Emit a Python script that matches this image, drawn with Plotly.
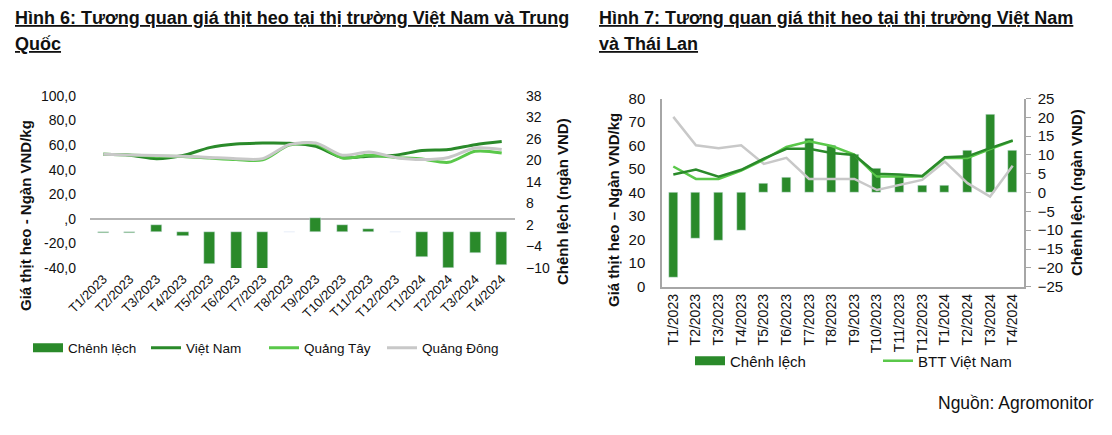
import plotly.graph_objects as go

W, H = 1112, 435
OFF = 8  # page body margin compensation

categories = ["T1/2023", "T2/2023", "T3/2023", "T4/2023", "T5/2023", "T6/2023", "T7/2023",
              "T8/2023", "T9/2023", "T10/2023", "T11/2023", "T12/2023",
              "T1/2024", "T2/2024", "T3/2024", "T4/2024"]

# Chart 6: Vietnam vs China
chenh_lech_6 = [-0.2, -0.2, 2.0, -1.2, -9.0, -10.3, -10.3, 0.0, 4.0, 2.0, 0.8, 0.0, -6.9, -10.0, -5.7, -9.3]
viet_nam_6 = [52.5, 51.8, 49.0, 51.5, 58.0, 61.0, 61.7, 61.5, 59.0, 50.0, 51.0, 51.8, 55.6, 56.4, 60.4, 63.0]
quang_tay_6 = [52.5, 52.0, 51.0, 50.8, 49.5, 48.3, 48.0, 60.0, 61.0, 49.6, 51.8, 50.0, 48.7, 46.0, 55.0, 53.6]
quang_dong_6 = [52.5, 52.0, 51.5, 51.0, 50.0, 49.0, 49.0, 60.4, 61.7, 51.8, 54.4, 50.0, 48.3, 50.0, 57.7, 56.4]
left6_tickvals = [-40, -20, 0, 20, 40, 60, 80, 100]
left6_ticktext = ["-40,0", "-20,0", ",0", "20,0", "40,0", "60,0", "80,0", "100,0"]
right6_tickvals = [-10, -4, 2, 8, 14, 20, 26, 32, 38]

# Chart 7: Vietnam vs Thailand
chenh_lech_7 = [-22.5, -12.2, -12.6, -10.1, 2.3, 3.9, 14.3, 12.5, 10.1, 6.5, 4.4, 2.0, 2.0, 11.1, 20.7, 11.1]
viet_nam_7 = [47.7, 49.8, 46.8, 49.7, 54.4, 58.6, 58.6, 56.8, 56.0, 48.0, 47.7, 47.1, 55.0, 55.4, 58.9, 62.2]
btt_viet_nam_7 = [51.1, 45.8, 45.8, 49.4, 54.0, 59.4, 61.8, 59.8, 56.2, 46.8, 46.8, 46.8, 54.7, 54.7, 58.5, 62.0]
thai_lan_7 = [72.2, 60.1, 58.9, 60.1, 52.2, 54.8, 45.8, 45.8, 45.8, 41.1, 43.3, 45.4, 53.2, 44.0, 38.3, 51.4]

BAR = "#2a8a2a"
DARK = "#2a8a2a"
LIGHT = "#5ac84a"
GRAY = "#c8c8c8"
AXIS = "#a6a6a6"
FONT = "Liberation Sans, Arial, sans-serif"
TXT = "#111"


def px(x):
    return (x - OFF) / W


def py(y):
    return (H - (y - OFF)) / H


fig = go.Figure()

# ---- Chart 6 ----
fig.add_trace(go.Bar(x=categories, y=chenh_lech_6, marker_color=BAR, width=0.42,
                     xaxis="x", yaxis="y", showlegend=False, name="Chênh lệch"))
fig.add_trace(go.Scatter(x=[None], y=[None], mode="lines", line=dict(color=BAR, width=9),
                         name="Chênh lệch", xaxis="x", yaxis="y2", legend="legend"))
fig.add_trace(go.Scatter(x=categories, y=viet_nam_6, mode="lines", name="Việt Nam",
                         line=dict(color=DARK, width=3, shape="spline", smoothing=0.8),
                         xaxis="x", yaxis="y2", legend="legend"))
fig.add_trace(go.Scatter(x=categories, y=quang_tay_6, mode="lines", name="Quảng Tây",
                         line=dict(color=LIGHT, width=3, shape="spline", smoothing=0.8),
                         xaxis="x", yaxis="y2", legend="legend"))
fig.add_trace(go.Scatter(x=categories, y=quang_dong_6, mode="lines", name="Quảng Đông",
                         line=dict(color=GRAY, width=3, shape="spline", smoothing=0.8),
                         xaxis="x", yaxis="y2", legend="legend"))

# ---- Chart 7 ----
fig.add_trace(go.Bar(x=categories, y=chenh_lech_7, marker_color=BAR, width=0.4,
                     xaxis="x2", yaxis="y3", showlegend=False, name="Chênh lệch"))
fig.add_trace(go.Scatter(x=[None], y=[None], mode="lines", line=dict(color=BAR, width=9),
                         name="Chênh lệch", xaxis="x2", yaxis="y4", legend="legend2"))
fig.add_trace(go.Scatter(x=categories, y=thai_lan_7, mode="lines", name="Thái Lan",
                         line=dict(color=GRAY, width=2.5), xaxis="x2", yaxis="y4",
                         showlegend=False))
fig.add_trace(go.Scatter(x=categories, y=btt_viet_nam_7, mode="lines", name="BTT Việt Nam",
                         line=dict(color=LIGHT, width=2.5), xaxis="x2", yaxis="y4",
                         legend="legend2"))
fig.add_trace(go.Scatter(x=categories, y=viet_nam_7, mode="lines", name="Việt Nam",
                         line=dict(color=DARK, width=2.5), xaxis="x2", yaxis="y4",
                         showlegend=False))

tickfont6 = dict(family=FONT, size=14, color=TXT)
tickfont7 = dict(family=FONT, size=15, color=TXT)

fig.update_layout(
    width=W, height=H,
    margin=dict(l=0, r=0, t=0, b=0, autoexpand=False),
    paper_bgcolor="white", plot_bgcolor="rgba(0,0,0,0)",
    font=dict(family=FONT, color=TXT),
    bargap=0,
    xaxis=dict(domain=[px(90), px(515)], anchor="y", showline=False, showgrid=False,
               zeroline=False, tickangle=-45, tickfont=dict(family=FONT, size=13, color=TXT),
               ticks="", automargin=False),
    yaxis=dict(domain=[py(268), py(96)], anchor="x", side="right", range=[-10, 38],
               tickvals=right6_tickvals, showgrid=False, zeroline=False, showline=False,
               tickfont=tickfont6, ticklabelstandoff=10, automargin=False),
    yaxis2=dict(overlaying="y", anchor="x", side="left", range=[-40, 100],
                tickvals=left6_tickvals, ticktext=left6_ticktext, showgrid=False,
                zeroline=True, zerolinecolor="#b5b5b5", zerolinewidth=1.5, showline=False,
                tickfont=tickfont6, ticklabelstandoff=13, automargin=False),
    xaxis2=dict(domain=[px(662), px(1024)], anchor="y3", showline=True, linecolor=AXIS,
                linewidth=1.5, showgrid=False, zeroline=False, tickangle=-90,
                tickfont=dict(family=FONT, size=14, color=TXT), ticks="", automargin=False),
    yaxis3=dict(domain=[py(286.7), py(98.5)], anchor="x2", side="right", range=[-25, 25],
                dtick=5, showgrid=False, zeroline=False, showline=True, linecolor=AXIS,
                linewidth=1.5, ticks="outside", ticklen=5, tickcolor=AXIS, tickfont=tickfont7,
                ticklabelstandoff=4, automargin=False),
    yaxis4=dict(overlaying="y3", anchor="x2", side="left", range=[0, 80], dtick=10,
                showgrid=False, zeroline=False, showline=True, linecolor=AXIS, linewidth=1.5,
                ticks="", tickfont=tickfont7, ticklabelstandoff=12, automargin=False),
    legend=dict(orientation="h", x=px(28), y=py(348), xanchor="left", yanchor="middle",
                font=dict(family=FONT, size=13.5, color=TXT), bgcolor="rgba(0,0,0,0)",
                itemwidth=30, entrywidth=73, entrywidthmode="pixels", traceorder="normal"),
    legend2=dict(orientation="h", x=px(690), y=py(361), xanchor="left", yanchor="middle",
                 font=dict(family=FONT, size=15, color=TXT), bgcolor="rgba(0,0,0,0)",
                 itemwidth=30, entrywidth=143, entrywidthmode="pixels", traceorder="normal"),
)

ann = []
title_font = dict(family=FONT, size=18, color=TXT)
ann.append(dict(text="<b><u>Hình 6: Tương quan giá thịt heo tại thị trường Việt Nam và Trung</u></b>",
                x=px(13), y=py(18), xanchor="left", yanchor="middle", font=title_font))
ann.append(dict(text="<b><u>Quốc</u></b>", x=px(13), y=py(44), xanchor="left", yanchor="middle",
                font=title_font))
ann.append(dict(text="<b><u>Hình 7: Tương quan giá thịt heo tại thị trường Việt Nam</u></b>",
                x=px(597), y=py(18), xanchor="left", yanchor="middle", font=title_font))
ann.append(dict(text="<b><u>và Thái Lan</u></b>", x=px(597), y=py(44), xanchor="left",
                yanchor="middle", font=title_font))
ann.append(dict(text="<b>Giá thịt heo - Ngàn VND/kg</b>", x=px(25), y=py(216), textangle=-90,
                xanchor="center", yanchor="middle", font=dict(family=FONT, size=15, color=TXT)))
ann.append(dict(text="<b>Chênh lệch (ngàn VND)</b>", x=px(563), y=py(202), textangle=-90,
                xanchor="center", yanchor="middle", font=dict(family=FONT, size=15, color=TXT)))
ann.append(dict(text="<b>Giá thịt heo – Ngàn VND/kg</b>", x=px(614), y=py(210), textangle=-90,
                xanchor="center", yanchor="middle", font=dict(family=FONT, size=15, color=TXT)))
ann.append(dict(text="<b>Chênh lệch (ngàn VND)</b>", x=px(1076), y=py(193), textangle=-90,
                xanchor="center", yanchor="middle", font=dict(family=FONT, size=15, color=TXT)))
ann.append(dict(text="Nguồn: Agromonitor", x=px(1096), y=py(403), xanchor="right",
                yanchor="middle", font=dict(family=FONT, size=17.5, color=TXT)))
for a in ann:
    a.update(xref="paper", yref="paper", showarrow=False)
fig.update_layout(annotations=ann)

fig.write_html("out.html")
